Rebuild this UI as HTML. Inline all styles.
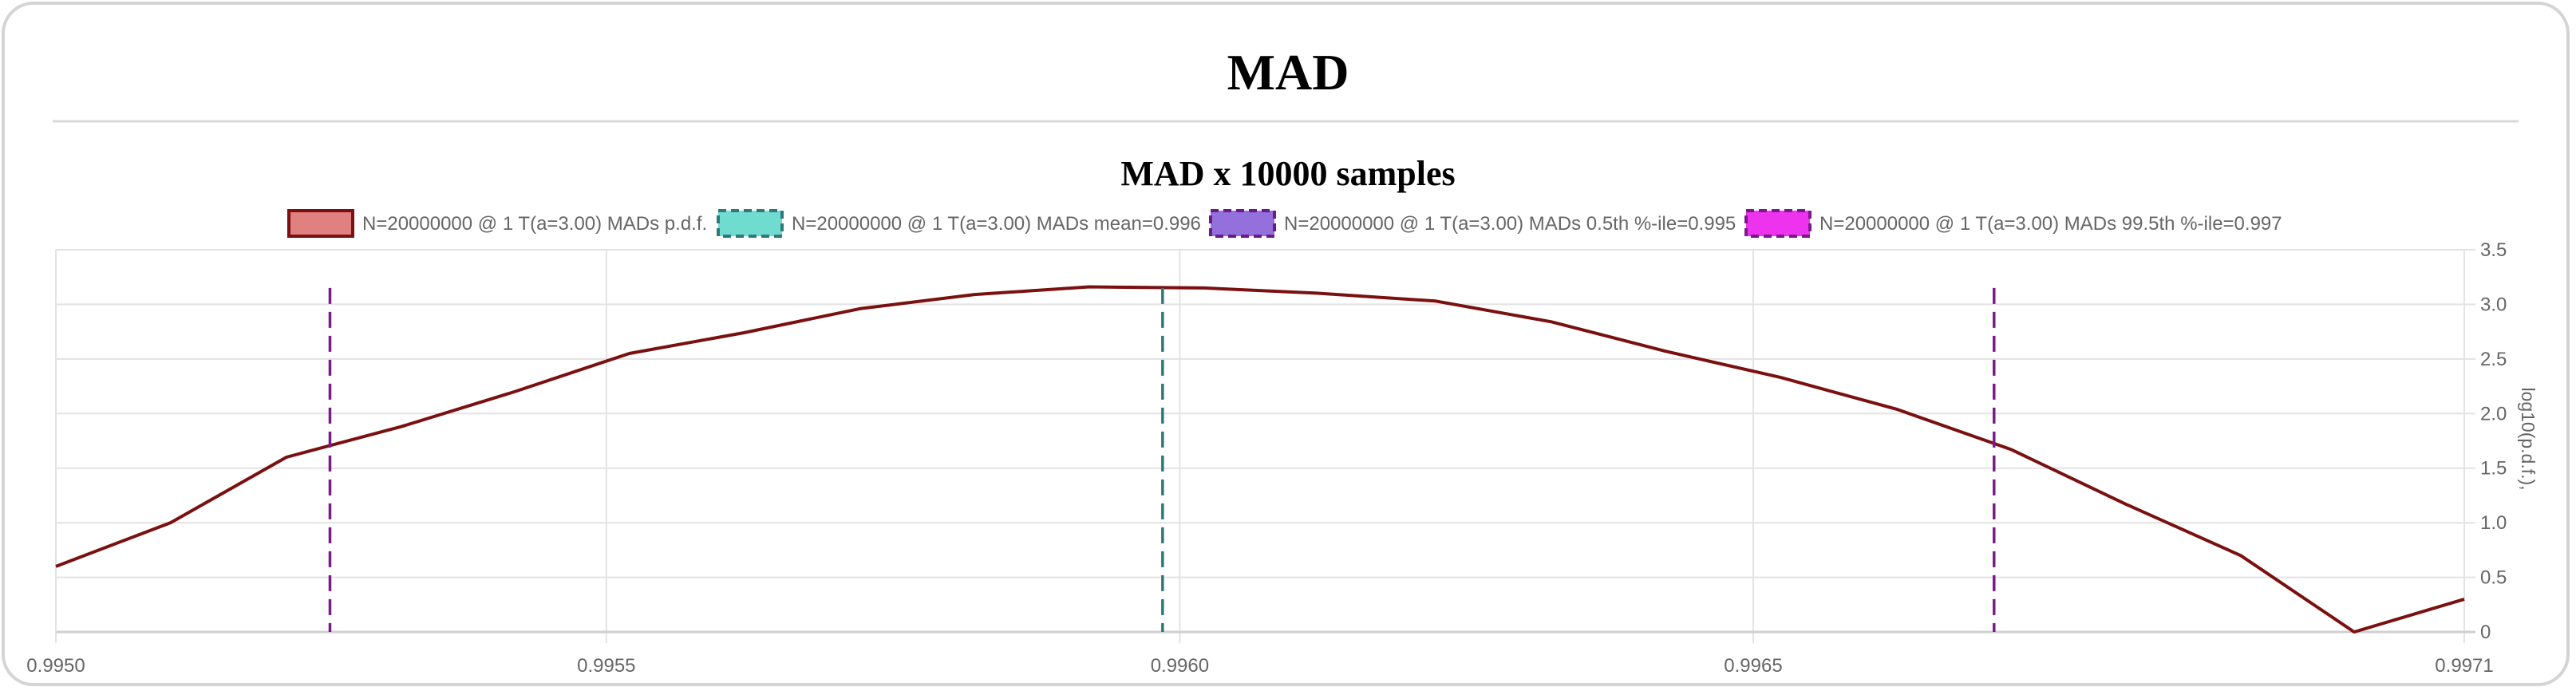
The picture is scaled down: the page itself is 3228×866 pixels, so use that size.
<!DOCTYPE html>
<html><head><meta charset="utf-8"><style>
html,body{margin:0;padding:0;background:#fff;width:3228px;height:866px;overflow:hidden}
svg{display:block}
</style></head><body>
<svg id="chart" width="3228" height="866" viewBox="0 0 3228 866">
<rect x="4" y="4" width="3214" height="854" rx="38" fill="#fff" stroke="#d4d4d4" stroke-width="4"/>
<text x="1614" y="112" text-anchor="middle" font-family="Liberation Serif, serif" font-weight="bold" font-size="64" fill="#000">MAD</text>
<line x1="66" y1="152" x2="3156" y2="152" stroke="#d8d8d8" stroke-width="3"/>
<text x="1614" y="232" text-anchor="middle" font-family="Liberation Serif, serif" font-weight="bold" font-size="44" fill="#000">MAD x 10000 samples</text>
<g id="legend"></g>
<g id="grid"></g>
<g id="marks"></g>
<g id="axes"></g>
<text transform="translate(3160,550) rotate(90)" text-anchor="middle" font-family="Liberation Sans, sans-serif" font-size="23" fill="#666">log10(p.d.f.),</text>
</svg>
<script>
const xValues = [0.99502,0.995120,0.995221,0.995321,0.995420,0.995520,0.995620,0.995721,0.995821,0.995921,0.996021,0.996123,0.996223,0.996324,0.996424,0.996524,0.996625,0.996725,0.996825,0.996925,0.997024,0.99712];
const pdfValues = [0.60,1.00,1.60,1.88,2.20,2.55,2.74,2.96,3.09,3.16,3.15,3.10,3.03,2.84,2.57,2.33,2.04,1.67,1.17,0.70,0.00,0.30];
const vlineX = [0.995259,0.995985,0.99671];
const vlineTop = [3.15,3.15,3.15];
const vlineColors = ['#7a1a8a','#2e7a78','#7a1a8a'];
const vlineNames = ['percentile-05-line','mean-line','percentile-995-line'];
const xTicks = [0.99502,0.9955,0.9960,0.9965,0.99712];
const xTickLabels = ['0.9950','0.9955','0.9960','0.9965','0.9971'];
const yTicks = [0,0.5,1,1.5,2,2.5,3,3.5];
const yTickLabels = ['0','0.5','1.0','1.5','2.0','2.5','3.0','3.5'];
const legendLabels = ['N=20000000 @ 1 T(a=3.00) MADs p.d.f.','N=20000000 @ 1 T(a=3.00) MADs mean=0.996','N=20000000 @ 1 T(a=3.00) MADs 0.5th %-ile=0.995','N=20000000 @ 1 T(a=3.00) MADs 99.5th %-ile=0.997'];

const NS='http://www.w3.org/2000/svg';
const L=70,R=3088,T=313,B=792,xmin=0.99502,xmax=0.99712,ymax=3.5;
const sx=v=>L+(v-xmin)/(xmax-xmin)*(R-L);
const sy=v=>B-v/ymax*(B-T);
function mk(tag,attrs,parent){const e=document.createElementNS(NS,tag);for(const k in attrs)e.setAttribute(k,attrs[k]);parent.appendChild(e);return e;}
const grid=document.getElementById('grid'),marks=document.getElementById('marks'),axes=document.getElementById('axes'),legend=document.getElementById('legend');
xTicks.forEach((t,i)=>{
  const g=mk('line',{x1:sx(t),x2:sx(t),y1:T,y2:B+14,stroke:'#e3e3e3','stroke-width':2},grid);
  
  
  const tx=mk('text',{x:sx(t),y:842,'text-anchor':'middle','font-family':'Liberation Sans, sans-serif','font-size':24,fill:'#666'},axes);
  tx.textContent=xTickLabels[i];
  
  
});
yTicks.forEach((t,i)=>{
  const g=mk('line',{x1:L,x2:R+14,y1:sy(t),y2:sy(t),stroke:t===0?'#cfcfcf':'#e3e3e3','stroke-width':t===0?3:2},grid);
  
  
  const tx=mk('text',{x:R+20,y:sy(t)+8,'font-family':'Liberation Sans, sans-serif','font-size':24,fill:'#666'},axes);
  tx.textContent=yTickLabels[i];
  
  
});
const lg=mk('line',{x1:L,x2:L,y1:T,y2:B,stroke:'#e3e3e3','stroke-width':2},grid);


const pts=xValues.map((x,i)=>sx(x).toFixed(1)+','+sy(pdfValues[i]).toFixed(1)).join(' ');
const pl=mk('polyline',{points:pts,fill:'none',stroke:'#7a1010','stroke-width':4,'stroke-linejoin':'round'},marks);


vlineX.forEach((v,i)=>{
  const l=mk('line',{x1:sx(v),x2:sx(v),y1:sy(vlineTop[i]),y2:B,stroke:vlineColors[i],'stroke-width':3.5,'stroke-dasharray':'20 10'},marks);
  
  
});
const boxX=[362,900,1517,2188];
const fills=['#e08080','#70dcd0','#9370db','#ee33ee'];
const strokes=['#7a1010','#2e7a78','#6a1b8a','#7a1a8a'];
const dashes=['none','10 6','10 6','10 6'];
legendLabels.forEach((lab,i)=>{
  const r=mk('rect',{x:boxX[i],y:264,width:80,height:32,fill:fills[i],stroke:strokes[i],'stroke-width':4,'stroke-dasharray':dashes[i]},legend);
  
  
  const t=mk('text',{x:boxX[i]+92,y:288,'font-family':'Liberation Sans, sans-serif','font-size':24,fill:'#666'},legend);
  t.textContent=lab;
  
  
});
</script>
</body></html>
